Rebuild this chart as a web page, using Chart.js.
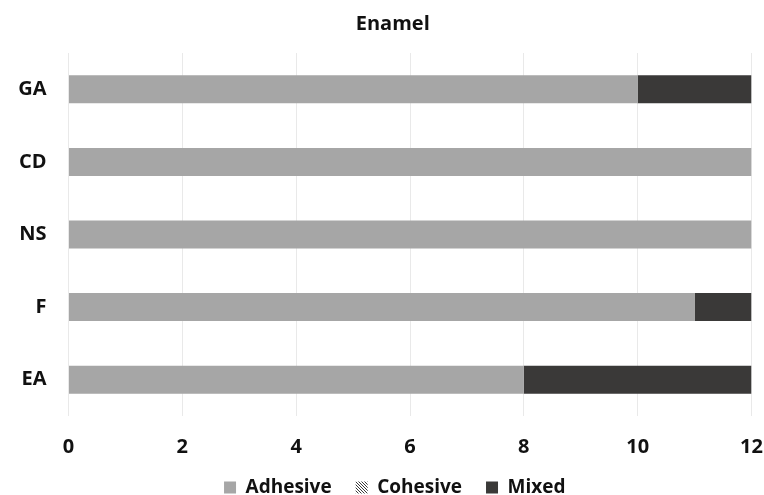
<!DOCTYPE html>
<html>
<head>
<meta charset="utf-8">
<script src="https://cdn.jsdelivr.net/npm/chart.js@4/dist/chart.umd.min.js"></script>
<style>
html,body{margin:0;padding:0;background:#fff;}
#wrap{width:764px;height:495px;}
</style>
</head>
<body>
<div id="wrap"><canvas id="c" width="764" height="495"></canvas></div>
<script>
const categories = ["GA", "CD", "NS", "F", "EA"];
const adhesive = [10, 12, 12, 11, 8];
const cohesive = [0, 0, 0, 0, 0];
const mixed = [2, 0, 0, 1, 4];
const xTicks = [0, 2, 4, 6, 8, 10, 12];
const chartTitle = "Enamel";

function hatch() {
  const p = document.createElement('canvas');
  p.width = 3; p.height = 3;
  const g = p.getContext('2d');
  g.fillStyle = '#ffffff'; g.fillRect(0,0,3,3);
  g.fillStyle = '#3a3a3a';
  g.fillRect(0,0,1,1); g.fillRect(1,1,1,1); g.fillRect(2,2,1,1);
  return g.createPattern(p, 'repeat');
}

// shift title and legend slightly right, as in the reference
const shiftPlugin = {
  id: 'shiftBlocks',
  afterLayout(chart) {
    if (chart.titleBlock) { chart.titleBlock.left += 10; chart.titleBlock.right += 10; }
    if (chart.legend) { chart.legend.left += 12; chart.legend.right += 12; }
  }
};

const FONT = "'Open Sans', 'DejaVu Sans', sans-serif";
Chart.defaults.font.family = FONT;
Chart.defaults.color = '#111';

new Chart(document.getElementById('c'), {
  type: 'bar',
  data: {
    labels: categories,
    datasets: [
      { label: 'Adhesive', data: adhesive, backgroundColor: '#a6a6a6' },
      { label: 'Cohesive', data: cohesive, backgroundColor: hatch() },
      { label: 'Mixed', data: mixed, backgroundColor: '#3a3938' }
    ]
  },
  plugins: [shiftPlugin],
  options: {
    indexAxis: 'y',
    responsive: false,
    animation: false,
    barPercentage: 0.386,
    categoryPercentage: 1,
    layout: { padding: { left: 14, right: 12.5, top: 0, bottom: -12 } },
    scales: {
      x: {
        stacked: true,
        min: 0, max: 12,
        afterBuildTicks: (s) => { s.ticks = xTicks.map(v => ({ value: v })); },
        afterFit: (s) => { s.height = 38; },
        grid: { color: '#e9e9e9', drawTicks: true, tickLength: 19, tickColor: 'rgba(0,0,0,0)' },
        border: { display: false },
        ticks: { padding: 0, font: { size: 20, weight: 'bold' }, color: '#111' }
      },
      y: {
        stacked: true,
        afterFit: (s) => { s.width = 54.5; },
        grid: { display: false, drawTicks: false },
        border: { display: false },
        ticks: { padding: 22, font: { size: 20, weight: 'bold' }, color: '#111' }
      }
    },
    plugins: {
      title: {
        display: true, text: chartTitle,
        font: { size: 20, weight: 'bold' }, color: '#111',
        padding: { top: 12, bottom: 17 }
      },
      legend: {
        position: 'bottom',
        labels: {
          boxWidth: 12, boxHeight: 12, padding: 24,
          font: { size: 19, weight: 'bold' }, color: '#111'
        }
      },
      tooltip: { enabled: false }
    }
  }
});
</script>
</body>
</html>
